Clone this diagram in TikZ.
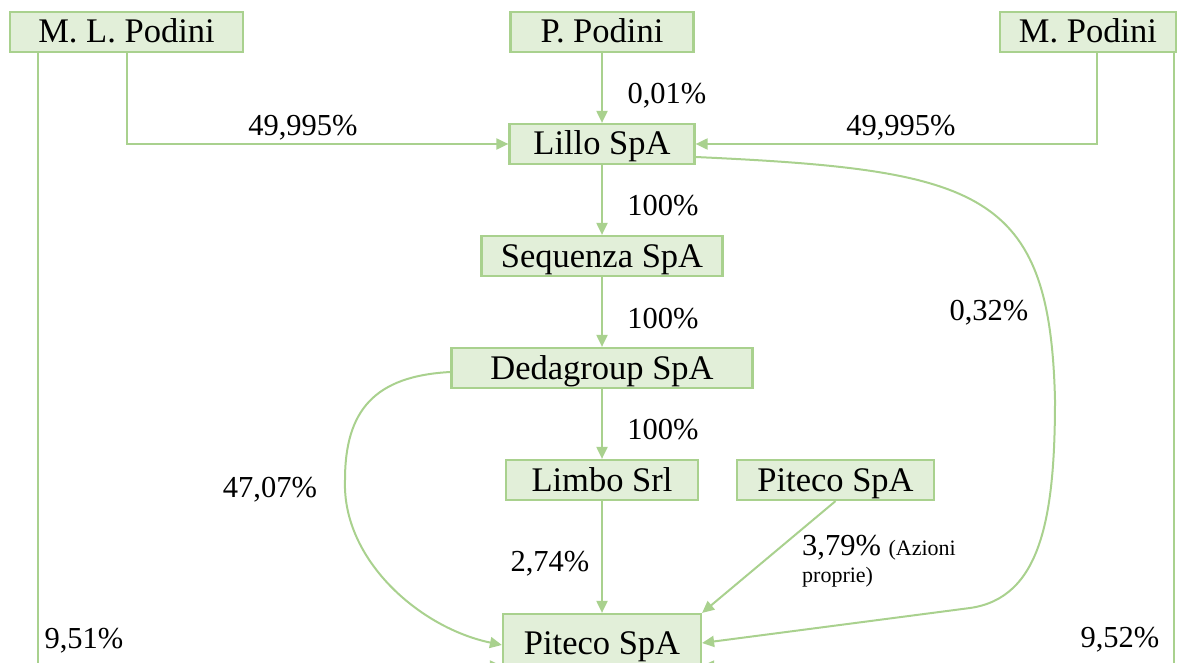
\documentclass[tikz,border=0pt]{standalone}
\usepackage{fontspec}
\setmainfont{Liberation Serif}
\usetikzlibrary{arrows.meta}
\definecolor{boxfill}{HTML}{E2EFD9}
\definecolor{boxline}{HTML}{A9D18E}
\begin{document}
\begin{tikzpicture}[x=1pt,y=-1pt,
  box/.style={draw=boxline, fill=boxfill, line width=2.2pt, inner sep=0pt,
    text height=26pt, text depth=4pt, minimum height=40pt,
    font=\fontsize{34.5}{40}\selectfont},
  conn/.style={draw=boxline, line width=2pt, -{Triangle[length=12pt,width=11pt]}},
  lab/.style={anchor=base, inner sep=0pt, font=\fontsize{30.5}{36}\selectfont},
  smalllab/.style={anchor=base west, inner sep=0pt, font=\fontsize{30.5}{36}\selectfont}]
\clip (0,0) rectangle (1186,663);
% nodes
\node[box, minimum width=233pt] (MLP) at (126.5,32) {M. L. Podini};
\node[box, minimum width=183pt] (PP) at (602,32) {P. Podini};
\node[box, minimum width=176pt] (MP) at (1088,32) {M. Podini};
\node[box, minimum width=185pt] (Lillo) at (602,144) {Lillo SpA};
\node[box, minimum width=241pt] (Seq) at (602,256) {Sequenza SpA};
\node[box, minimum width=301pt] (Deda) at (602,368) {Dedagroup SpA};
\node[box, minimum width=192pt] (Limbo) at (602,480) {Limbo Srl};
\node[box, minimum width=197pt] (Pit2) at (835.5,480) {Piteco SpA};
\node[box, minimum width=198pt, minimum height=58pt] (Piteco) at (602,643) {Piteco SpA};
% coordinates
\coordinate (mlpturn) at (38,666);
\coordinate (mpturn) at (1174,666);
% connectors
\draw[conn] (PP) -- (Lillo);
\draw[conn] (MLP.south) |- (Lillo.west);
\draw[conn] ([xshift=9pt]MP.south) |- (Lillo.east);
\draw[conn] (Lillo) -- (Seq);
\draw[conn] (Seq) -- (Deda);
\draw[conn] (Deda) -- (Limbo);
\draw[conn] (Limbo) -- (Piteco);
\draw[conn] (Pit2.south) -- (Piteco.north east);
\draw[conn] (MLP.south -| mlpturn) -- (mlpturn) -- (mlpturn -| Piteco.west);
\draw[conn] (MP.south -| mpturn) -- (mpturn) -- (mpturn -| Piteco.east);
\draw[conn] ([yshift=-13pt]Lillo.east) .. controls (980,170) and (1050,190) .. (1055,400)
  .. controls (1055,520) and (1040,598) .. (970,608) -- (Piteco.east);
\draw[conn] ([yshift=-4pt]Deda.west) .. controls (375,376) and (345,410) .. (345,480)
  .. controls (342,560) and (420,628) .. ([yshift=-2pt]Piteco.west);
% labels
\node[lab] (l1) at (667,104) {0,01\%};
\node[lab] (l2) at (303,136) {49,995\%};
\node[lab] (l3) at (901,136) {49,995\%};
\node[lab] (l4) at (663,216) {100\%};
\node[lab] (l5) at (663,328) {100\%};
\node[lab] (l6) at (663,439) {100\%};
\node[lab] (l7) at (989,320) {0,32\%};
\node[lab] (l8) at (270,497) {47,07\%};
\node[lab] (l9) at (550,571) {2,74\%};
\node[smalllab] (l10) at (802,555) {3,79\% {\fontsize{22}{26}\selectfont(Azioni}};
\node[smalllab, font=\fontsize{22}{26}\selectfont] (l11) at (802,582) {proprie)};
\node[lab] (l12) at (84,648) {9,51\%};
\node[lab] (l13) at (1120,647) {9,52\%};
\end{tikzpicture}
\end{document}
